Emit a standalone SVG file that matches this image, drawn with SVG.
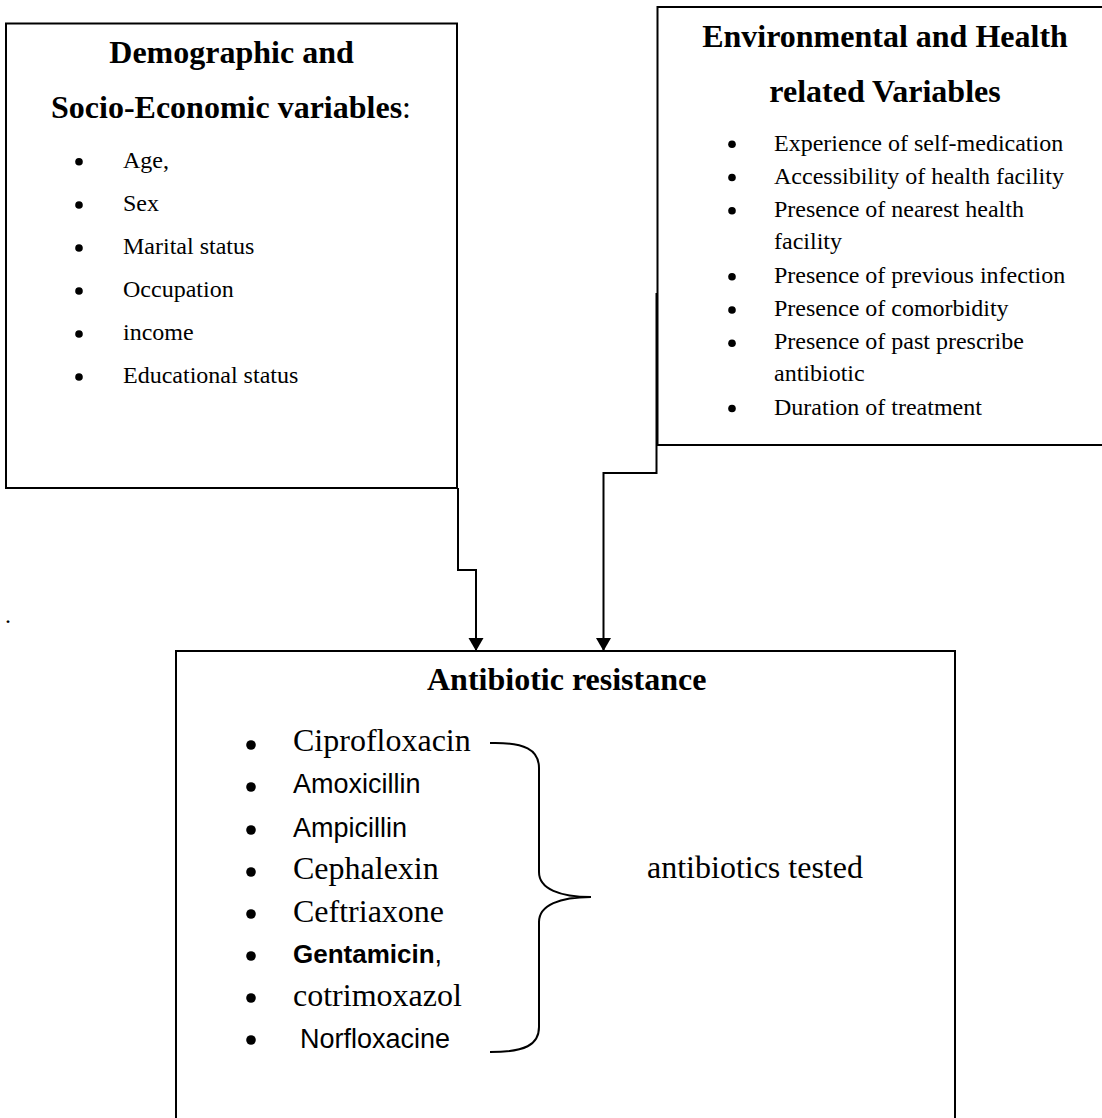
<svg xmlns="http://www.w3.org/2000/svg" width="1102" height="1118" viewBox="0 0 1102 1118">
<defs>
<style>
.box{fill:none;stroke:#000;stroke-width:2}
.ln{fill:none;stroke:#000;stroke-width:2}
.ttl{font-family:"Liberation Serif","Times New Roman",serif;font-weight:bold;font-size:32px;fill:#000}
.it{font-family:"Liberation Serif","Times New Roman",serif;font-size:24px;fill:#000}
.big{font-family:"Liberation Serif","Times New Roman",serif;font-size:32px;fill:#000}
.sans{font-family:"Liberation Sans",Arial,sans-serif;font-size:27px;fill:#000}
.bul{fill:#000}
</style>
<marker id="arr" markerWidth="14" markerHeight="16" refX="13" refY="7.5" orient="auto" markerUnits="userSpaceOnUse">
<path d="M0,0 L13,7.5 L0,15 Z" fill="#000"/>
</marker>
</defs>
<rect width="1102" height="1118" fill="#fff"/>

<g id="node-demographic">
<rect class="box" x="6" y="23.5" width="451" height="464.5"/>
<text class="ttl" x="231.5" y="63" text-anchor="middle">Demographic and</text>
<text class="ttl" x="231" y="118" text-anchor="middle">Socio-Economic variables<tspan font-weight="normal">:</tspan></text>
<g class="bul">
<circle cx="79" cy="161.7" r="3.8"/>
<circle cx="79" cy="205" r="3.8"/>
<circle cx="79" cy="248" r="3.8"/>
<circle cx="79" cy="291" r="3.8"/>
<circle cx="79" cy="334" r="3.8"/>
<circle cx="79" cy="377" r="3.8"/>
</g>
<text class="it" x="123" y="168">Age,</text>
<text class="it" x="123" y="211">Sex</text>
<text class="it" x="123" y="254">Marital status</text>
<text class="it" x="123" y="297">Occupation</text>
<text class="it" x="123" y="340">income</text>
<text class="it" x="123" y="383">Educational status</text>
</g>

<g id="node-environmental">
<rect class="box" x="657.5" y="7" width="460" height="438"/>
<text class="ttl" x="885" y="47" text-anchor="middle">Environmental and Health</text>
<text class="ttl" x="885" y="102" text-anchor="middle">related Variables</text>
<g class="bul">
<circle cx="732" cy="144.3" r="3.8"/>
<circle cx="732" cy="177.5" r="3.8"/>
<circle cx="732" cy="210.8" r="3.8"/>
<circle cx="732" cy="276.8" r="3.8"/>
<circle cx="732" cy="310" r="3.8"/>
<circle cx="732" cy="343.3" r="3.8"/>
<circle cx="732" cy="408.5" r="3.8"/>
</g>
<text class="it" x="774" y="150.7">Experience of self-medication</text>
<text class="it" x="774" y="184">Accessibility of health facility</text>
<text class="it" x="774" y="217.3">Presence of nearest health</text>
<text class="it" x="774" y="249">facility</text>
<text class="it" x="774" y="283">Presence of previous infection</text>
<text class="it" x="774" y="316.3">Presence of comorbidity</text>
<text class="it" x="774" y="349.3">Presence of past prescribe</text>
<text class="it" x="774" y="381">antibiotic</text>
<text class="it" x="774" y="415">Duration of treatment</text>
</g>

<g id="node-resistance">
<rect class="box" x="176" y="651" width="779" height="500"/>
<text class="ttl" x="427" y="690">Antibiotic resistance</text>
<g class="bul">
<circle cx="251" cy="745" r="4.8"/>
<circle cx="251" cy="787" r="4.8"/>
<circle cx="251" cy="830" r="4.8"/>
<circle cx="251" cy="872" r="4.8"/>
<circle cx="251" cy="914" r="4.8"/>
<circle cx="251" cy="956" r="4.8"/>
<circle cx="251" cy="998" r="4.8"/>
<circle cx="251" cy="1040" r="4.8"/>
</g>
<text class="big" x="293" y="751">Ciprofloxacin</text>
<text class="sans" x="293" y="793">Amoxicillin</text>
<text class="sans" x="293" y="836.5">Ampicillin</text>
<text class="big" x="293" y="879">Cephalexin</text>
<text class="big" x="293" y="921.5">Ceftriaxone</text>
<text class="sans" x="293" y="963"><tspan font-weight="bold" font-size="26px">Gentamicin</tspan>,</text>
<text class="big" x="293" y="1006">cotrimoxazol</text>
<text class="sans" x="300" y="1048">Norfloxacine</text>
</g>

<g id="brace">
<path class="ln" d="M490,743 C525,742 539,750 539,768 L539,872 C539,889 560,897 591,897 C560,897 539,905 539,922 L539,1027 C539,1045 525,1052 490,1052"/>
<text class="big" x="647" y="878">antibiotics tested</text>
</g>

<g id="connectors">
<path class="ln" d="M458,488 L458,570 L476,570 L476,651" marker-end="url(#arr)"/>
<path class="ln" d="M656.5,293 L656.5,473 L603.5,473 L603.5,651" marker-end="url(#arr)"/>
</g>

<text class="it" x="5" y="623">.</text>
</svg>
